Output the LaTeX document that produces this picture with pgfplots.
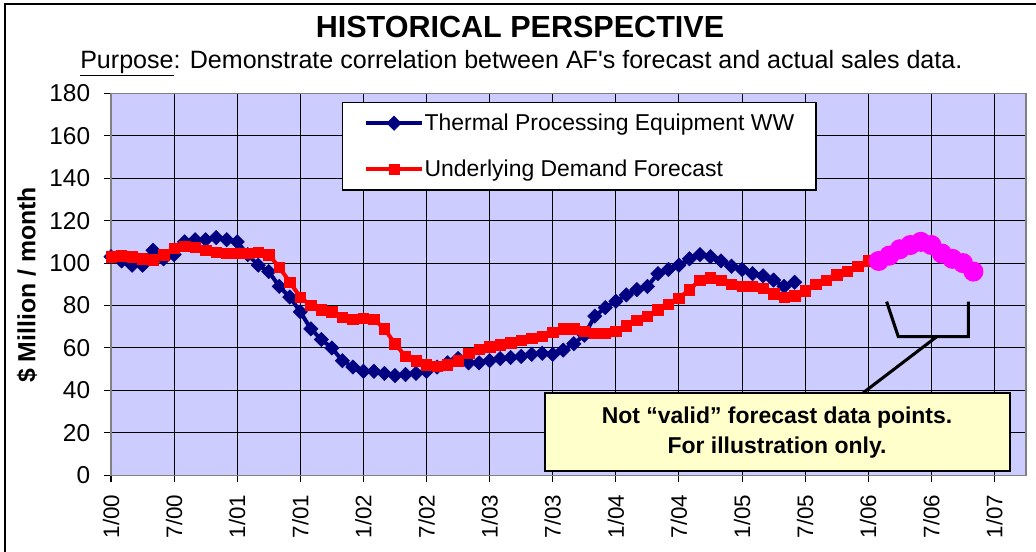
\documentclass[border=0pt]{standalone}
\usepackage{fontspec}
\setmainfont{Liberation Sans}
\usepackage{pgfplots}
\usepackage{pgfplotstable}
\pgfplotsset{compat=1.18}
\definecolor{plotbg}{HTML}{CCCCFF}
\definecolor{navyblue}{HTML}{000080}
\definecolor{boxyellow}{HTML}{FFFFCC}
\definecolor{brightmagenta}{HTML}{FF00FF}
\definecolor{brightred}{HTML}{FF0000}

\pgfplotstableread{
m v
0 103
1 101
2 99
3 99
4 106
5 102
6 104
7 110
8 111
9 111
10 112
11 111
12 110
13 104
14 99
15 96
16 89
17 84
18 77
19 69
20 64
21 60
22 54
23 51
24 49
25 49
26 48
27 47
28 47.5
29 48
30 49
31 51
32 53
33 55
34 53
35 53
36 54
37 55
38 55.5
39 56
40 57
41 57.5
42 57
43 59
44 62
45 66
46 75
47 79
48 82
49 85
50 87.5
51 89
52 95
53 97
54 99
55 102
56 104
57 103
58 101
59 98.5
60 97
61 95
62 94
63 92
64 89
65 91
}\thermal

\pgfplotstableread{
m v
0 103
1 103.5
2 103
3 102
4 101.5
5 104
6 107
7 108
8 107.5
9 106
10 105
11 104.5
12 104.5
13 104.5
14 105
15 104
16 98
17 91
18 84
19 80
20 78
21 77
22 74.5
23 73.5
24 74
25 73.5
26 69
27 62
28 56
29 54
30 52
31 51.5
32 52
33 54
34 57.5
35 59.5
36 60.5
37 61.5
38 62.5
39 63.5
40 64.5
41 65.5
42 67.5
43 69
44 69
45 68
46 67
47 67
48 68
49 70.5
50 73
51 75
52 78
53 80.5
54 83.5
55 87.5
56 92
57 93
58 92
59 90
60 89
61 89
62 88
63 85.5
64 84
65 84.5
66 87
67 90
68 92
69 94.5
70 96
71 98.5
72 101
}\demand

\pgfplotstableread{
m v
73 101
74 103.5
75 106.5
76 108.5
77 110
78 108.5
79 104.5
80 102
81 100
82 96
}\illus

\begin{document}
\begin{tikzpicture}
\path[use as bounding box] (0,0) rectangle (777pt,414pt);
\draw[line width=1.9pt] (3.75pt,0) -- (3.75pt,411pt) -- (777pt,411pt);
\node[anchor=base, font=\fontsize{22.9}{27}\selectfont\bfseries, inner sep=0pt] at (390pt,386pt) {HISTORICAL PERSPECTIVE};
\node[anchor=base, font=\fontsize{18.8}{22}\selectfont, inner sep=0pt] at (391pt,362.8pt) {\underline{Purpose}: Demonstrate correlation between AF\textquotesingle s forecast and actual sales data.};
\node[rotate=90, anchor=base, font=\fontsize{18.6}{22}\selectfont\bfseries, inner sep=0pt] at (26.5pt,200.25pt) {\$ Million / month};
\begin{axis}[
  at={(83.25pt,57.525pt)}, anchor=south west,
  scale only axis, width=686.25pt, height=286.5pt,
  xmin=0, xmax=87, ymin=0, ymax=180,
  xtick={0,6,...,84},
  xticklabels={1/00,7/00,1/01,7/01,1/02,7/02,1/03,7/03,1/04,7/04,1/05,7/05,1/06,7/06,1/07},
  ytick={0,20,...,180},
  tick pos=left, tick align=outside, major tick length=5.25pt,
  grid=major, major grid style={black, line width=0.8pt},
  axis line style={draw=gray, line width=1.1pt},
  tick style={black, line width=0.8pt},
  axis background/.style={fill=plotbg},
  /pgf/number format/assume math mode=true,
  yticklabel style={font=\fontsize{18.3}{20}\selectfont, anchor=east, inner sep=0pt, xshift=-10.2pt},
  xticklabel style={font=\fontsize{16.8}{20}\selectfont, yshift=-9pt, rotate=90, anchor=east, inner sep=0pt},
  clip=false,
  legend style={at={(0.2521,0.978)}, anchor=north west, draw=black, line width=0.9pt, fill=white,
    font=\fontsize{17.2}{20}\selectfont, inner xsep=16.3pt, inner ysep=8.7pt, row sep=20.5pt,
    column sep=0.5pt, nodes={inner sep=0pt}},
  legend cell align=left,
  legend image code/.code={\draw[mark repeat=2,mark phase=2,#1] plot coordinates {(0pt,0pt) (21pt,0pt) (42pt,0pt)};},
]
\addplot[navyblue, line width=3pt, mark=square*, mark size=3.8pt, mark options={rotate=45, solid, line width=0.4pt}] table[x=m,y=v] {\thermal};
\addlegendentry{Thermal Processing Equipment WW}
\addplot[brightred, line width=3pt, mark=square*, mark size=3.9pt, mark options={solid, line width=0.4pt}] table[x=m,y=v] {\demand};
\addlegendentry{Underlying Demand Forecast}
\addplot[brightmagenta, line width=3pt, mark=*, mark size=6pt, mark options={solid}, forget plot] table[x=m,y=v] {\illus};

\draw[line width=1.5pt, fill=boxyellow] (axis cs:41.27,2.17) rectangle (axis cs:85.48,38.92);
\node[anchor=base, font=\fontsize{17.2}{20}\selectfont\bfseries, inner sep=0pt] at (axis cs:63.33,24.5) {Not “valid” forecast data points.};
\node[anchor=base, font=\fontsize{17.2}{20}\selectfont\bfseries, inner sep=0pt] at (axis cs:63.33,10.37) {For illustration only.};
\draw[line width=2.3pt] (axis cs:73.75,81.8) -- (axis cs:74.86,65.31) -- (axis cs:81.52,65.31) -- (axis cs:81.52,81.8);
\draw[line width=2.3pt] (axis cs:78.51,65.31) -- (axis cs:71.53,38.92);
\end{axis}
\end{tikzpicture}
\end{document}
